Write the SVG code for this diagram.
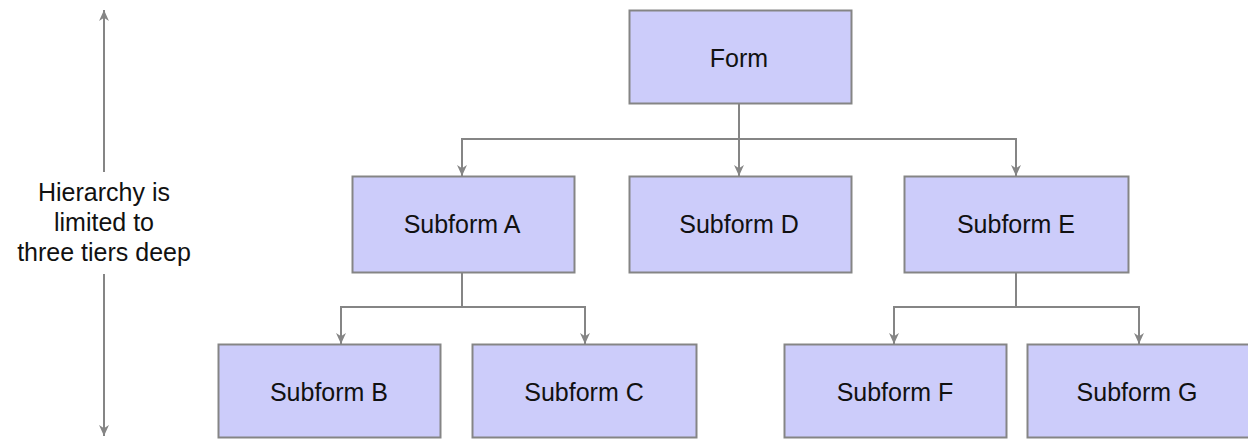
<svg xmlns="http://www.w3.org/2000/svg" width="1248" height="440" viewBox="0 0 1248 440">
<style>
.box{fill:#ccccfa;stroke:#858585;stroke-width:2}
.lbl{font-family:"Liberation Sans",Arial,sans-serif;font-size:25px;fill:#111111;text-anchor:middle}
.con{fill:none;stroke:#858585;stroke-width:2}
</style>
<defs>
<marker id="ah" viewBox="0 0 10 10" refX="10" refY="5" markerWidth="11" markerHeight="11" markerUnits="userSpaceOnUse" orient="auto">
<path d="M0,0.5 L10,5 L0,9.5 L3,5 z" fill="#858585"/>
</marker>
</defs>
<rect width="1248" height="440" fill="#ffffff"/>
<g id="connectors">
<path class="con" d="M739 104 V176" marker-end="url(#ah)"/>
<path class="con" d="M462 176 V139 H1016 V176" marker-end="url(#ah)"/>
<path class="con" d="M462 139 V176" marker-end="url(#ah)"/>
<path class="con" d="M462 272 V307"/>
<path class="con" d="M341 344 V307 H585 V344" marker-end="url(#ah)"/>
<path class="con" d="M341 307 V344" marker-end="url(#ah)"/>
<path class="con" d="M1016 272 V307"/>
<path class="con" d="M894 344 V307 H1139 V344" marker-end="url(#ah)"/>
<path class="con" d="M894 307 V344" marker-end="url(#ah)"/>
<path class="con" d="M104 172 V10" marker-end="url(#ah)"/>
<path class="con" d="M104 274 V436" marker-end="url(#ah)"/>
</g>
<g id="label-tiers">
<text class="lbl" x="104" y="201">Hierarchy is</text>
<text class="lbl" x="104" y="231">limited to</text>
<text class="lbl" x="104" y="261">three tiers deep</text>
</g>
<g id="form"><rect class="box" x="629.5" y="10.5" width="222" height="93"/><text class="lbl" x="739" y="67">Form</text></g>
<g id="subform-a"><rect class="box" x="352.5" y="176.5" width="222" height="96"/><text class="lbl" x="462" y="233">Subform A</text></g>
<g id="subform-d"><rect class="box" x="629.5" y="176.5" width="222" height="96"/><text class="lbl" x="739" y="233">Subform D</text></g>
<g id="subform-e"><rect class="box" x="904.5" y="176.5" width="224" height="96"/><text class="lbl" x="1016" y="233">Subform E</text></g>
<g id="subform-b"><rect class="box" x="218.5" y="344.5" width="222" height="93"/><text class="lbl" x="329" y="401">Subform B</text></g>
<g id="subform-c"><rect class="box" x="472.5" y="344.5" width="224" height="93"/><text class="lbl" x="584" y="401">Subform C</text></g>
<g id="subform-f"><rect class="box" x="784.5" y="344.5" width="222" height="93"/><text class="lbl" x="895" y="401">Subform F</text></g>
<g id="subform-g"><rect class="box" x="1027.5" y="344.5" width="222" height="93"/><text class="lbl" x="1137" y="401">Subform G</text></g>
</svg>
